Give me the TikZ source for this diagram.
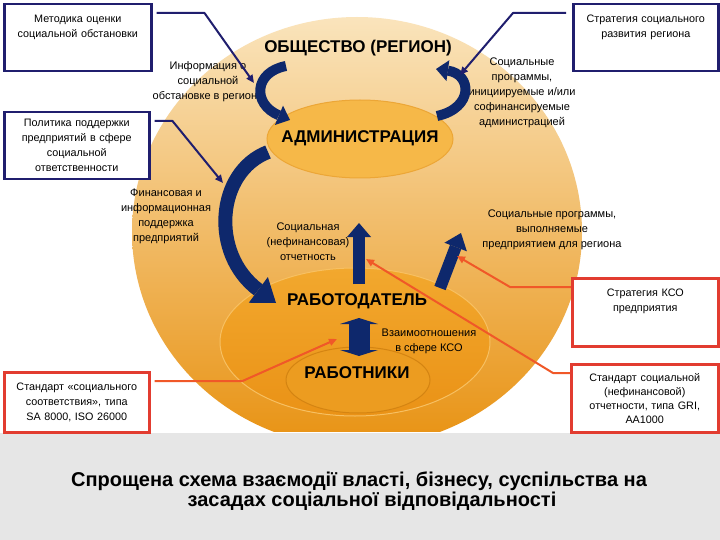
\documentclass[tikz,border=0pt]{standalone}
\usepackage{fontspec}
\setmainfont{Liberation Sans}
\usetikzlibrary{arrows.meta}
\definecolor{navyA}{RGB}{14,40,108}
\definecolor{navyL}{RGB}{32,30,110}
\definecolor{redB}{RGB}{226,60,48}
\definecolor{redL}{RGB}{240,88,40}
\definecolor{sphTop}{RGB}{250,228,188}
\definecolor{sphMid}{RGB}{243,180,68}
\definecolor{sphBot}{RGB}{232,146,18}
\definecolor{admFill}{RGB}{246,184,72}
\definecolor{admLine}{RGB}{236,166,54}
\definecolor{empTop}{RGB}{242,168,46}
\definecolor{empBot}{RGB}{234,146,22}
\definecolor{empLine}{RGB}{247,192,98}
\definecolor{wrkFill}{RGB}{236,156,32}
\definecolor{wrkLine}{RGB}{212,132,18}
\definecolor{grayBg}{RGB}{230,230,230}
\begin{document}
\begin{tikzpicture}[x=1pt,y=-1pt,
  small/.style={font=\fontsize{11pt}{15pt}\selectfont, align=center, inner sep=0pt},
  big/.style={font=\fontsize{17pt}{20pt}\selectfont\bfseries, inner sep=0pt},
  navybox/.style={draw=navyL, line width=2.5pt, fill=white, align=center,
    inner xsep=3pt, inner ysep=3pt, anchor=north west,
    font=\fontsize{10.8pt}{15pt}\selectfont},
  redbox/.style={navybox, draw=redB},
  navyline/.style={draw=navyL, line width=2pt, line join=round,
    -{Triangle[length=8pt,width=7pt]}},
  redline/.style={draw=redL, line width=2pt, line join=round,
    -{Triangle[length=8pt,width=7pt]}},
  barrow/.style={draw=navyA}
]
\useasboundingbox (0,0) rectangle (720,540);
\fill[white] (0,0) rectangle (720,540);
\fill[grayBg] (0,433) rectangle (720,540);

% spheres
\begin{scope}
  \clip (0,0) rectangle (720,431);
  \shade[top color=sphTop, middle color=sphMid, bottom color=sphBot]
    (357,232) ellipse [x radius=225, y radius=215];
  \shadedraw[top color=empTop, bottom color=empBot, draw=empLine, line width=1pt]
    (355,342) ellipse [x radius=135, y radius=74];
  \draw[fill=wrkFill, draw=wrkLine, line width=1pt]
    (358,380) ellipse [x radius=72, y radius=33];
\end{scope}
\draw[fill=admFill, draw=admLine, line width=1pt]
  (360,139) ellipse [x radius=93, y radius=39];

% main labels
\node[big] (obsh) at (358,48) {ОБЩЕСТВО (РЕГИОН)};
\node[big] (adm) at (360,138) {АДМИНИСТРАЦИЯ};
\node[big] (emp) at (357,301) {РАБОТОДАТЕЛЬ};
\node[big] (wrk) at (357,373) {РАБОТНИКИ};

% small labels
\node[small] (info) at (208,82) {Информация о\\социальной\\обстановке в регионе};
\node[small] (socprog) at (522,93) {Социальные\\программы,\\инициируемые и/или\\софинансируемые\\администрацией};
\node[small] (fin) at (166,216) {Финансовая и\\информационная\\поддержка\\предприятий};
\node[small] (otch) at (308,242) {Социальная\\(нефинансовая)\\отчетность};
\node[small] (socprog2) at (552,230) {Социальные программы,\\выполняемые\\предприятием для региона};
\node[small] (vzaim) at (429,341) {Взаимоотношения\\в сфере КСО};

% block arrows
\draw[barrow, line width=10pt, -{Triangle[length=12pt,width=21pt,line width=0pt]}]
  (286,66) .. controls (254,72) and (252,104) .. (290,120);
\draw[barrow, line width=10pt, -{Triangle[length=12pt,width=21pt,line width=0pt]}]
  (437,116) .. controls (474,108) and (472,74) .. (436,69);
\draw[barrow, line width=14pt, -{Triangle[length=22pt,width=32pt,line width=0pt]}]
  (268,152) .. controls (216,172) and (210,254) .. (276,303);
\draw[barrow, line width=12pt, -{Triangle[length=14pt,width=24pt,line width=0pt]}]
  (359,284) -- (359,223);
\draw[barrow, line width=12pt, -{Triangle[length=15pt,width=24pt,line width=0pt]}]
  (440,288) -- (461,233);
\draw[barrow, line width=21pt,
  {Triangle[length=6pt,width=38pt,line width=0pt]}-{Triangle[length=6pt,width=38pt,line width=0pt]}]
  (359,356) -- (359,318);

% boxes
\node[navybox, text width=141pt, text height=15pt, text depth=46pt] (box1) at (3,3)
  {Методика оценки\\социальной обстановки};
\node[navybox, text width=139pt, text height=15pt, text depth=46pt] (box2) at (572,3)
  {Стратегия социального\\развития региона};
\node[navybox, text width=139pt, minimum height=67pt] (box3) at (3,111)
  {Политика поддержки\\предприятий в сфере\\социальной\\ответственности};
\node[redbox, text width=140pt, text height=15pt, text depth=47pt] (box4) at (571,277)
  {Стратегия КСО\\предприятия};
\node[redbox, text width=141pt, minimum height=68pt, font=\fontsize{10.8pt}{14pt}\selectfont] (box5) at (570,363)
  {Стандарт социальной\\(нефинансовой)\\отчетности, типа GRI,\\AA1000};
\node[redbox, text width=139pt, minimum height=60pt] (box6) at (3,371)
  {Стандарт «социального\\соответствия», типа\\SA 8000, ISO 26000};

% connector end points
\coordinate (tA1) at (254,83);
\coordinate (tA2) at (460,75);
\coordinate (tA3) at (223,183);
\coordinate (tR1) at (457,256);
\coordinate (tR2) at (366,259);
\coordinate (tR3) at (337,339);

\draw[navyline] ([xshift=4pt,yshift=-10pt]box1.north east) -- ++(48,0) -- (tA1);
\draw[navyline] ([xshift=-6pt,yshift=-10pt]box2.north west) -- ++(-53,0) -- (tA2);
\draw[navyline] ([xshift=4pt,yshift=-10pt]box3.north east) -- ++(18,0) -- (tA3);
\draw[redline] ([yshift=-10pt]box4.north west) -- ++(-61,0) -- (tR1);
\draw[redline] ([yshift=-10pt]box5.north west) -- ++(-17,0) -- (tR2);
\draw[redline] ([xshift=4pt,yshift=-10pt]box6.north east) -- ++(88,0) -- (tR3);

% title
\node[font=\fontsize{20pt}{20pt}\selectfont\bfseries, align=center, inner sep=0pt] (title) at (359,491)
  {Спрощена схема взаємодії власті, бізнесу, суспільства на\\\hspace*{26pt}засадах соціальної відповідальності};
\end{tikzpicture}
\end{document}
